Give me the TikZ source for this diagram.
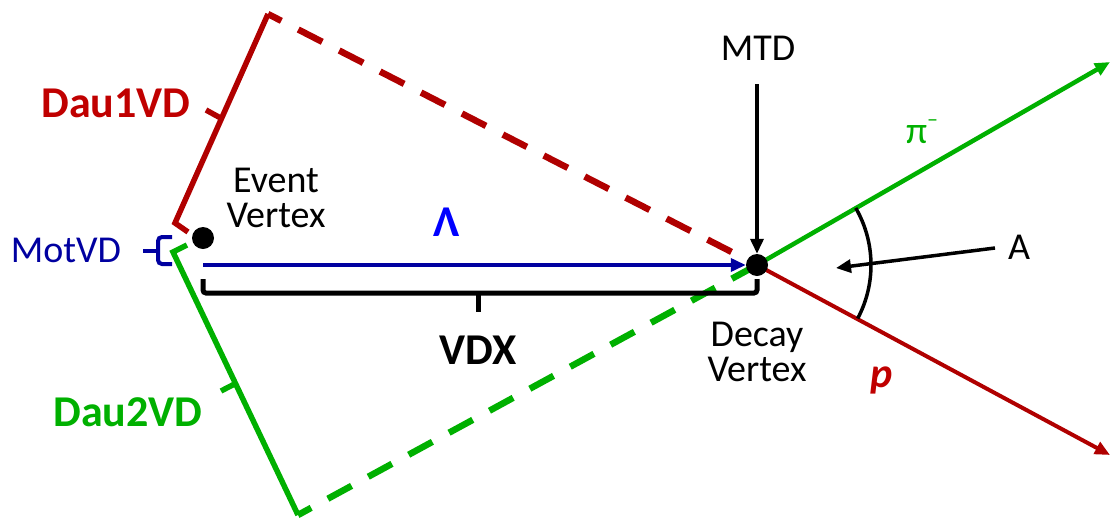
\documentclass[tikz,border=0pt]{standalone}
\usepackage{fontspec}
\setmainfont{Carlito}
\usetikzlibrary{arrows.meta}
\definecolor{trkred}{RGB}{176,0,0}
\definecolor{labred}{RGB}{192,0,0}
\definecolor{trkgreen}{RGB}{0,176,0}
\definecolor{motblue}{RGB}{0,0,160}
\definecolor{lamblue}{RGB}{0,0,255}
\begin{document}
\begin{tikzpicture}[x=1pt,y=-1pt,
  lbl/.style={font=\fontsize{38}{35}\selectfont, inner sep=0pt, align=center},
  boldlbl/.style={font=\fontsize{44}{44}\selectfont\bfseries, inner sep=0pt},
  vtx/.style={circle, fill=black, inner sep=0pt, minimum size=22pt},
  tip/.style={-{Triangle[length=15pt,width=13pt]}},
  redtrk/.style={draw=trkred, line width=4pt},
  greentrk/.style={draw=trkgreen, line width=4.5pt},
  dashtrk/.style={line width=6.5pt, dash pattern=on 27pt off 19pt},
  dcabar/.style={line width=5.5pt, line join=miter},
  blackarrow/.style={draw=black, line width=3.5pt, tip}
]
\useasboundingbox (0,0) rectangle (1112,520);

% principal points
\coordinate (EV) at (203,238);
\coordinate (DV) at (757,265);
\coordinate (ptip) at (1110,455);
\coordinate (pitip) at (1110,62);

% Dau1VD: distance of closest approach of the proton track
\coordinate (r0) at (188,232);
\coordinate (r1) at (175,223);
\coordinate (r2) at (268,14);
\coordinate (r3) at (221.5,118.5);
\coordinate (r4) at (206,110);
\draw[trkred, dcabar] (r0) -- (r1) -- (r2);
\draw[trkred, dcabar] (r3) -- (r4);
\draw[trkred, dashtrk, dash phase=12pt] (r2) -- (DV);

% Dau2VD: distance of closest approach of the pion track
\coordinate (g0) at (187,245);
\coordinate (g1) at (173,252);
\coordinate (g2) at (298,515);
\coordinate (g3) at (235.5,383.5);
\coordinate (g4) at (221,391);
\draw[trkgreen, dcabar] (g0) -- (g1) -- (g2);
\draw[trkgreen, dcabar] (g3) -- (g4);
\draw[trkgreen, dashtrk, dash phase=12pt] (g2) -- (DV);

% MotVD bracket
\coordinate (m0) at (172,237);
\coordinate (m1) at (158,237);
\coordinate (m2) at (158,264);
\coordinate (m3) at (172,264);
\coordinate (m4) at (158,250.5);
\coordinate (m5) at (143,250.5);
\draw[motblue, line width=4pt, rounded corners=4pt] (m0) -- (m1) -- (m2) -- (m3);
\draw[motblue, line width=4pt] (m4) -- (m5);

% VDX bracket
\coordinate (x0) at (203,279);
\coordinate (x1) at (203,293);
\coordinate (x2) at (757,293);
\coordinate (x3) at (757,279);
\coordinate (x4) at (478,293);
\coordinate (x5) at (478,312);
\draw[black, line width=5pt, rounded corners=3pt] (x0) -- (x1) -- (x2) -- (x3);
\draw[black, line width=5pt] (x4) -- (x5);

% daughter tracks
\draw[redtrk, tip] (DV) -- (ptip);
\draw[greentrk, tip] (DV) -- (pitip);

% opening angle
\draw[black, line width=3.5pt] (DV) ++(-30:114) arc[start angle=-30, end angle=28, radius=114];

% vertices
\node[vtx] (ev) at (EV) {};
\node[vtx] (dv) at (DV) {};

% Lambda flight path
\coordinate (lam0) at (203,265);
\draw[motblue, line width=3.5pt, tip] (lam0) -- (dv.west);

% labels
\node[boldlbl, text=labred] (dau1) at (116,103) {Dau1VD};
\node[boldlbl, text=trkgreen] (dau2) at (128,412) {Dau2VD};
\node[lbl, text=motblue] (mot) at (66,250) {MotVD};
\node[lbl] (evlab) at (276,198) {Event\\Vertex};
\node[boldlbl, text=lamblue] (lam) at (447,222) {Λ};
\node[boldlbl] (vdx) at (478,350) {VDX};
\node[lbl] (dvlab) at (757,352) {Decay\\Vertex};
\node[lbl] (mtd) at (758,48) {MTD};
\node[lbl, text=trkgreen] (pi) at (922,132) {π\raisebox{0.45em}{\fontsize{22}{22}\selectfont –}};
\node[lbl] (alab) at (1019,247) {A};
\node[font=\fontsize{42}{42}\selectfont\bfseries\itshape, text=labred, inner sep=0pt] (plab) at (882,380) {p};

% pointers
\coordinate (mtd0) at (757,84);
\draw[blackarrow] (mtd0) -- (dv.north);
\coordinate (a0) at (995,248);
\coordinate (a1) at (836,268);
\draw[blackarrow] (a0) -- (a1);
\end{tikzpicture}
\end{document}
